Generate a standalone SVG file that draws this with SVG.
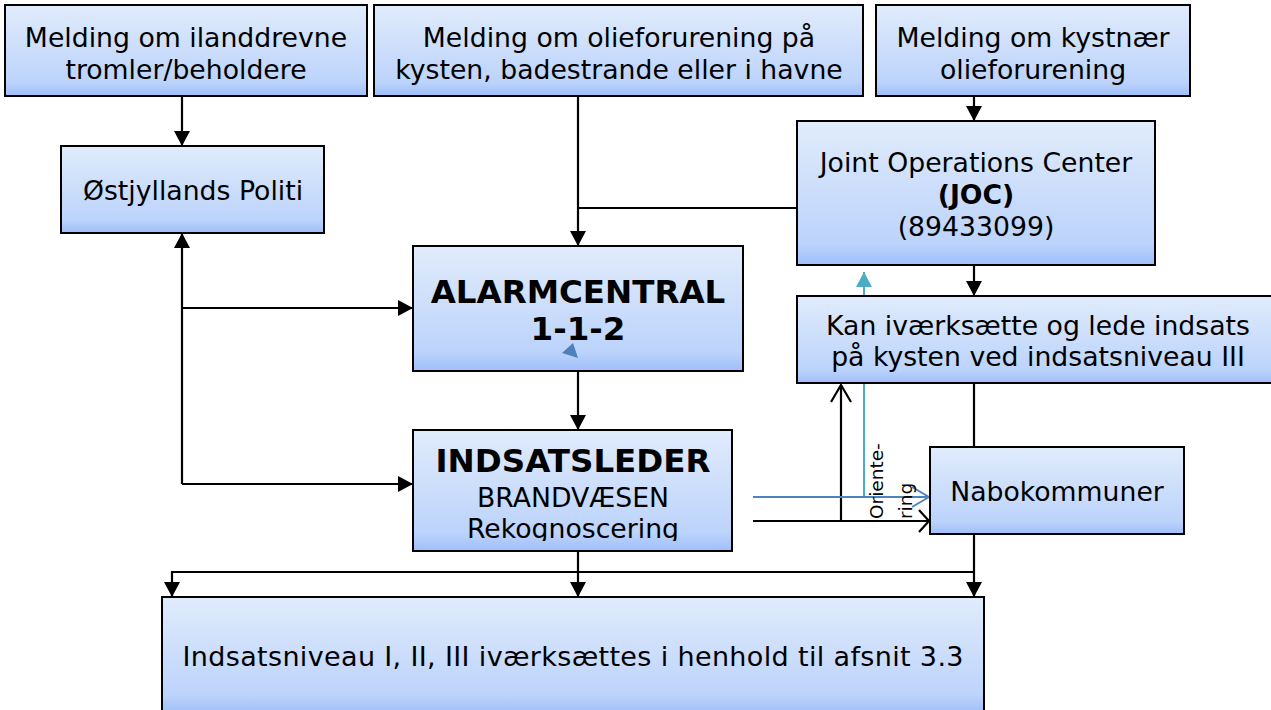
<svg xmlns="http://www.w3.org/2000/svg" width="1271" height="710" viewBox="0 0 1271 710">
<defs>
<linearGradient id="g" x1="0" y1="0" x2="0" y2="1">
<stop offset="0" stop-color="#e1ecfc"/>
<stop offset="0.85" stop-color="#bcd3fb"/>
<stop offset="1" stop-color="#9ebffa"/>
</linearGradient>
<marker id="ah" viewBox="0 0 15 16" refX="15" refY="8" markerWidth="15" markerHeight="16" markerUnits="userSpaceOnUse" orient="auto-start-reverse">
<path d="M0,0 L15,8 L0,16 Z" fill="#000"/>
</marker>
<marker id="ahc" viewBox="0 0 15 16" refX="15" refY="8" markerWidth="15" markerHeight="16" markerUnits="userSpaceOnUse" orient="auto">
<path d="M0,0 L15,8 L0,16 Z" fill="#4bacc6"/>
</marker>
<marker id="oa" viewBox="0 0 19 22" refX="18" refY="11" markerWidth="19" markerHeight="22" markerUnits="userSpaceOnUse" orient="auto">
<path d="M1,1 L18,11 L1,21" fill="none" stroke="#000" stroke-width="2.2"/>
</marker>
<marker id="oa2" viewBox="0 0 12 24" refX="11" refY="12" markerWidth="12" markerHeight="24" markerUnits="userSpaceOnUse" orient="auto">
<path d="M1,1 L11,12 L1,23" fill="none" stroke="#000" stroke-width="2.2"/>
</marker>
<marker id="ob" viewBox="0 0 19 22" refX="18" refY="11" markerWidth="19" markerHeight="22" markerUnits="userSpaceOnUse" orient="auto">
<path d="M1,1 L18,11 L1,21" fill="none" stroke="#4f81bd" stroke-width="2"/>
</marker>
<clipPath id="clipInd">
<rect x="413" y="430" width="319" height="111"/>
</clipPath>
</defs>
<style>
.box{fill:url(#g);stroke:#000;stroke-width:2}
text{font-family:"DejaVu Sans",Verdana,sans-serif;font-size:26.7px;fill:#000;text-anchor:middle}
.b{font-weight:bold;font-size:32.5px}
.c{fill:none;stroke:#000;stroke-width:2.2}
</style>
<g id="connectors">
<path class="c" d="M182,96 V146" marker-end="url(#ah)"/>
<path class="c" d="M578,96 V246" marker-end="url(#ah)"/>
<path class="c" d="M797,208 H578"/>
<path class="c" d="M974,96 V121" marker-end="url(#ah)"/>
<path class="c" d="M974,265 V296" marker-end="url(#ah)"/>
<path class="c" d="M182,484 V233" marker-end="url(#ah)"/>
<path class="c" d="M182,308 H413" marker-end="url(#ah)"/>
<path class="c" d="M182,484 H413" marker-end="url(#ah)"/>
<path class="c" d="M578,371 V430" marker-end="url(#ah)"/>
<path class="c" d="M974,383 V447"/>
<path class="c" d="M974,534 V597" marker-end="url(#ah)"/>
<path class="c" d="M974,572 H172 V597" marker-end="url(#ah)"/>
<path class="c" d="M578,551 V597" marker-end="url(#ah)"/>
<path class="c" d="M753,521 H929" marker-end="url(#oa2)"/>
<path class="c" d="M841,521 V385" marker-end="url(#oa)"/>
<path d="M864,497 V272" fill="none" stroke="#4bacc6" stroke-width="2" marker-end="url(#ahc)"/>
<path d="M753,497 H929" fill="none" stroke="#4f81bd" stroke-width="2" marker-end="url(#ob)"/>
<text transform="translate(883,519) rotate(-90)" style="font-size:18.5px;text-anchor:start">Oriente-</text>
<text transform="translate(912,519) rotate(-90)" style="font-size:18.5px;text-anchor:start">ring</text>
</g>
<g id="n1">
<rect class="box" x="5" y="5" width="362" height="91"/>
<text x="186" y="47">Melding om ilanddrevne</text>
<text x="186" y="79">tromler/beholdere</text>
</g>
<g id="n2">
<rect class="box" x="374" y="5" width="489" height="91"/>
<text x="619" y="47">Melding om olieforurening på</text>
<text x="619" y="79">kysten, badestrande eller i havne</text>
</g>
<g id="n3">
<rect class="box" x="876" y="5" width="314" height="91"/>
<text x="1033" y="47">Melding om kystnær</text>
<text x="1033" y="79">olieforurening</text>
</g>
<g id="politi">
<rect class="box" x="61" y="146" width="263" height="87"/>
<text x="193" y="200">Østjyllands Politi</text>
</g>
<g id="joc">
<rect class="box" x="797" y="121" width="358" height="144"/>
<text x="976" y="172">Joint Operations Center</text>
<text x="976" y="204" style="font-weight:bold">(JOC)</text>
<text x="976" y="236">(89433099)</text>
</g>
<g id="alarm">
<rect class="box" x="413" y="246" width="330" height="125"/>
<text class="b" x="578" y="303">ALARMCENTRAL</text>
<text class="b" x="578" y="340">1-1-2</text>
<path d="M562,353 L573,343 L578,358 Z" fill="#4f81bd"/>
</g>
<g id="indsats">
<rect class="box" x="413" y="430" width="319" height="121"/>
<g clip-path="url(#clipInd)">
<text class="b" x="573" y="472">INDSATSLEDER</text>
<text x="573" y="507">BRANDVÆSEN</text>
<text x="573" y="538">Rekognoscering</text>
</g>
</g>
<g id="kan">
<rect class="box" x="797" y="296" width="480" height="87"/>
<text x="1038" y="335">Kan iværksætte og lede indsats</text>
<text x="1038" y="366">på kysten ved indsatsniveau III</text>
</g>
<g id="nabo">
<rect class="box" x="930" y="447" width="254" height="87"/>
<text x="1057" y="501">Nabokommuner</text>
</g>
<g id="bund">
<rect class="box" x="162" y="597" width="822" height="116"/>
<text x="573" y="666" style="font-size:27px" textLength="781">Indsatsniveau I, II, III iværksættes i henhold til afsnit 3.3</text>
</g>
</svg>
